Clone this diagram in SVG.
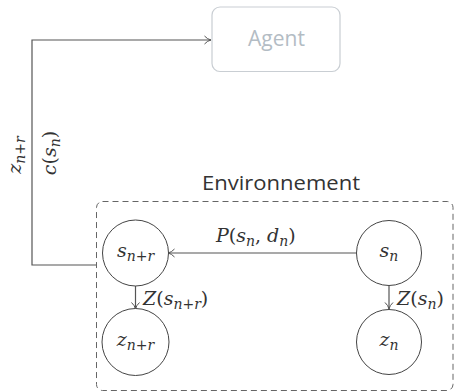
<svg xmlns="http://www.w3.org/2000/svg" width="456" height="392" viewBox="0 0 456 392">
<defs>
<marker id="arr" viewBox="0 0 10 10" refX="9" refY="5" markerWidth="10" markerHeight="10" markerUnits="userSpaceOnUse" orient="auto">
<path d="M2.5,1 Q5.5,4.3 9,5 Q5.5,5.7 2.5,9" fill="none" stroke="#555" stroke-width="1"/>
</marker>
<style>
.conn{fill:none;stroke:#555;stroke-width:1.2}
.node{fill:#fff;stroke:#444;stroke-width:1}
.m{font-family:"DejaVu Serif","Liberation Serif",serif;font-style:italic;font-size:19px;fill:#333}
.r{font-style:normal}
.sub{font-size:14px}
.lbl{font-family:"Open Sans","Noto Sans",sans-serif}
</style>
</defs>
<rect width="456" height="392" fill="#fff"/>

<g id="agent">
<rect x="212" y="7" width="128" height="64.5" rx="8" fill="#fff" stroke="#c9ced3" stroke-width="1.2"/>
<text x="276.5" y="46" text-anchor="middle" class="lbl" font-size="21" fill="#b3bcc4">Agent</text>
</g>

<g id="environnement">
<text x="281" y="190" text-anchor="middle" class="lbl" font-size="20.5" fill="#333" textLength="158" lengthAdjust="spacingAndGlyphs">Environnement</text>
<rect x="96.5" y="201.5" width="356.5" height="189" rx="6" fill="none" stroke="#666" stroke-width="1" stroke-dasharray="6 4"/>
</g>

<g id="connectors">
<path class="conn" d="M96,265 H32 V40 H211" marker-end="url(#arr)"/>
<path class="conn" d="M356,253 H168" marker-end="url(#arr)" stroke-width="1"/>
<path class="conn" d="M135.5,286 V309" marker-end="url(#arr)" stroke-width="1"/>
<path class="conn" d="M389,286 V309" marker-end="url(#arr)" stroke-width="1"/>
<text class="m" x="216" y="242">P<tspan class="r">(</tspan>s<tspan class="sub" dy="4">n</tspan><tspan class="r" dy="-4">, </tspan>d<tspan class="sub" dy="4">n</tspan><tspan class="r" dy="-4">)</tspan></text>
<text class="m" x="143" y="305">Z<tspan class="r">(</tspan>s<tspan class="sub" dy="4">n<tspan class="r">+</tspan>r</tspan><tspan class="r" dy="-4">)</tspan></text>
<text class="m" x="397" y="305">Z<tspan class="r">(</tspan>s<tspan class="sub" dy="4">n</tspan><tspan class="r" dy="-4">)</tspan></text>
<text class="m" transform="translate(21,155) rotate(-90)" text-anchor="middle" font-size="18">z<tspan class="sub" dy="4">n<tspan class="r">+</tspan>r</tspan></text>
<text class="m" transform="translate(56,153) rotate(-90)" text-anchor="middle" font-size="18">c<tspan class="r">(</tspan>s<tspan class="sub" dy="4">n</tspan><tspan class="r" dy="-4">)</tspan></text>
</g>

<g id="s_nr">
<circle class="node" cx="135.5" cy="253" r="33"/>
<text class="m" x="135.5" y="257" text-anchor="middle">s<tspan class="sub" dy="4">n<tspan class="r">+</tspan>r</tspan></text>
</g>
<g id="s_n">
<circle class="node" cx="389" cy="253" r="32.5"/>
<text class="m" x="389" y="257" text-anchor="middle">s<tspan class="sub" dy="4">n</tspan></text>
</g>
<g id="z_nr">
<circle class="node" cx="135.5" cy="342" r="33.5"/>
<text class="m" x="135.5" y="346" text-anchor="middle">z<tspan class="sub" dy="4">n<tspan class="r">+</tspan>r</tspan></text>
</g>
<g id="z_n">
<circle class="node" cx="389" cy="342" r="32.5"/>
<text class="m" x="389" y="346" text-anchor="middle">z<tspan class="sub" dy="4">n</tspan></text>
</g>
</svg>
